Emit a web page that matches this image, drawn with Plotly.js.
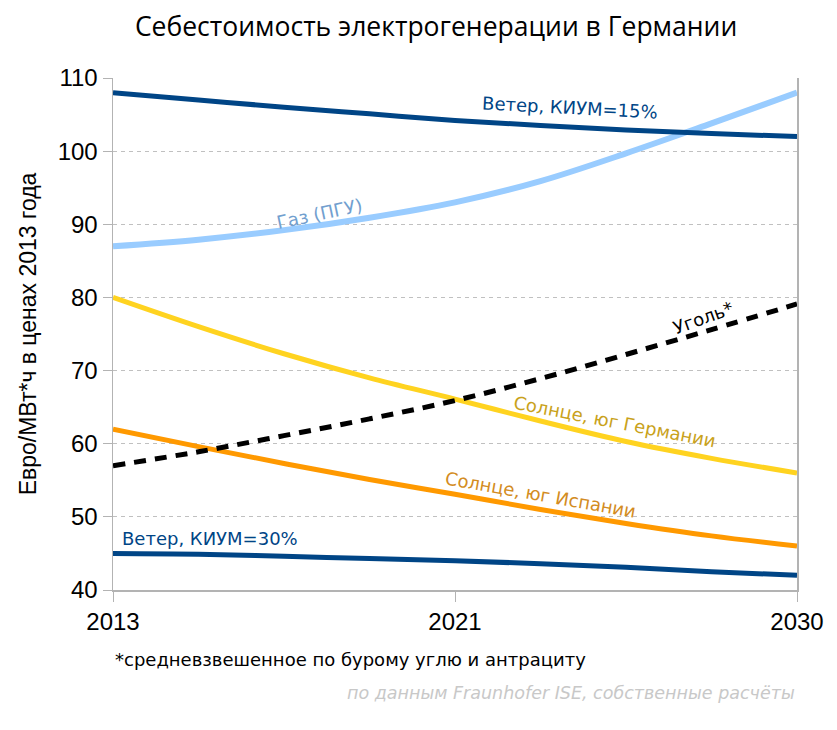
<!DOCTYPE html>
<html>
<head>
<meta charset="utf-8">
<script src="https://cdn.plot.ly/plotly-3.0.1.min.js"></script>
<style>html,body{margin:0;padding:0;background:#fff;}#chart{width:837px;height:730px;}</style>
</head>
<body>
<div id="chart"></div>
<script>
// Positions along the category axis (2013 → 0, 2021 → 1, 2030 → 2), read in quarter steps
const xPos = [0, 0.25, 0.5, 0.75, 1, 1.25, 1.5, 1.75, 2];
const tickPos = [0, 1, 2];
const tickLabels = ['2013', '2021', '2030'];

const wind15 = [108, 107.0, 106.0, 105.1, 104.2, 103.5, 102.9, 102.4, 102.0];
const gas = [87.0, 87.9, 89.2, 90.9, 93.0, 95.9, 99.7, 103.8, 108.0];
const coal = [57.0, 58.9, 61.1, 63.4, 65.9, 68.9, 72.2, 75.6, 79.1];
const solarDE = [80.0, 76.0, 72.3, 69.0, 66.1, 63.1, 60.3, 58.0, 56.0];
const solarES = [62.0, 59.6, 57.3, 55.1, 53.1, 51.0, 49.1, 47.4, 46.0];
const wind30 = [45.0, 44.9, 44.6, 44.3, 44.0, 43.6, 43.1, 42.5, 42.0];

const seriesNames = ['Ветер, КИУМ=15%', 'Газ (ПГУ)', 'Уголь*', 'Солнце, юг Германии', 'Солнце, юг Испании', 'Ветер, КИУМ=30%'];

const traces = [
  {y: solarES, name: seriesNames[4], line: {color: '#ff9900', width: 5}},
  {y: solarDE, name: seriesNames[3], line: {color: '#ffd320', width: 5}},
  {y: coal, name: seriesNames[2], line: {color: '#000000', width: 5, dash: '12px,9px'}},
  {y: gas, name: seriesNames[1], line: {color: '#99ccff', width: 6}},
  {y: wind15, name: seriesNames[0], line: {color: '#004586', width: 5}},
  {y: wind30, name: seriesNames[5], line: {color: '#004586', width: 5}}
].map(t => Object.assign({x: xPos, type: 'scatter', mode: 'lines', hoverinfo: 'skip'}, t, {line: Object.assign({shape: 'spline', smoothing: 1}, t.line)}));

const labelFont = (c) => ({family: 'DejaVu Sans', size: 18, color: c});

const layout = {
  width: 837, height: 730,
  margin: {l: 113, r: 40, t: 78, b: 140},
  paper_bgcolor: '#ffffff', plot_bgcolor: '#ffffff',
  showlegend: false,
  title: {
    text: 'Себестоимость электрогенерации в Германии',
    font: {family: 'Open Sans', size: 26.5, color: '#000'},
    x: 0.521, xanchor: 'center', xref: 'container',
    y: 0.963, yanchor: 'middle', yref: 'container'
  },
  xaxis: {
    range: [0, 2],
    tickmode: 'array', tickvals: tickPos, ticktext: tickLabels,
    showgrid: false, zeroline: false,
    showline: true, linecolor: '#b3b3b3', linewidth: 1.5,
    ticks: 'outside', ticklen: 10, tickcolor: '#b3b3b3', tickwidth: 1,
    tickfont: {family: 'Liberation Sans', size: 24, color: '#000'}
  },
  yaxis: {
    range: [40, 110], dtick: 10, tick0: 40,
    showgrid: true, gridcolor: '#c0c0c0', griddash: '4px,4px', gridwidth: 1,
    zeroline: false,
    showline: true, linecolor: '#b3b3b3', linewidth: 1.5, mirror: true,
    ticks: 'outside', ticklen: 9, tickcolor: '#b3b3b3', tickwidth: 1,
    tickfont: {family: 'Liberation Sans', size: 24, color: '#000'},
    title: {text: 'Евро/МВт*ч в ценах 2013 года', font: {family: 'Liberation Sans', size: 23, color: '#000'}, standoff: 14}
  },
  annotations: [
    {x: 1.336, y: 105.9, text: seriesNames[0], textangle: 3, font: labelFont('#004586')},
    {x: 0.605, y: 91.5, text: seriesNames[1], textangle: -12, font: labelFont('#729fcf')},
    {x: 1.728, y: 77.2, text: seriesNames[2], textangle: -20, font: labelFont('#000000')},
    {x: 1.465, y: 63.0, text: seriesNames[3], textangle: 11, font: labelFont('#c9a21b')},
    {x: 1.249, y: 53.1, text: seriesNames[4], textangle: 10, font: labelFont('#d38c22')},
    {x: 0.284, y: 47.0, text: seriesNames[5], textangle: 0, font: labelFont('#004586')},
    {xref: 'paper', yref: 'paper', x: 0, y: -0.1367, xanchor: 'left', yanchor: 'middle',
     text: '*средневзвешенное по бурому углю и антрациту', font: {family: 'DejaVu Sans', size: 18, color: '#000'}},
    {xref: 'paper', yref: 'paper', x: 1, y: -0.201, xanchor: 'right', yanchor: 'middle',
     text: '<i>по данным Fraunhofer ISE, собственные расчёты</i>', font: {family: 'DejaVu Sans', size: 17.5, color: '#c8c8c8'}}
  ].map(a => Object.assign({xref: 'x', yref: 'y', showarrow: false, xanchor: 'center', yanchor: 'middle'}, a))
};

Plotly.newPlot('chart', traces, layout, {displayModeBar: false, staticPlot: true});
</script>
</body>
</html>
